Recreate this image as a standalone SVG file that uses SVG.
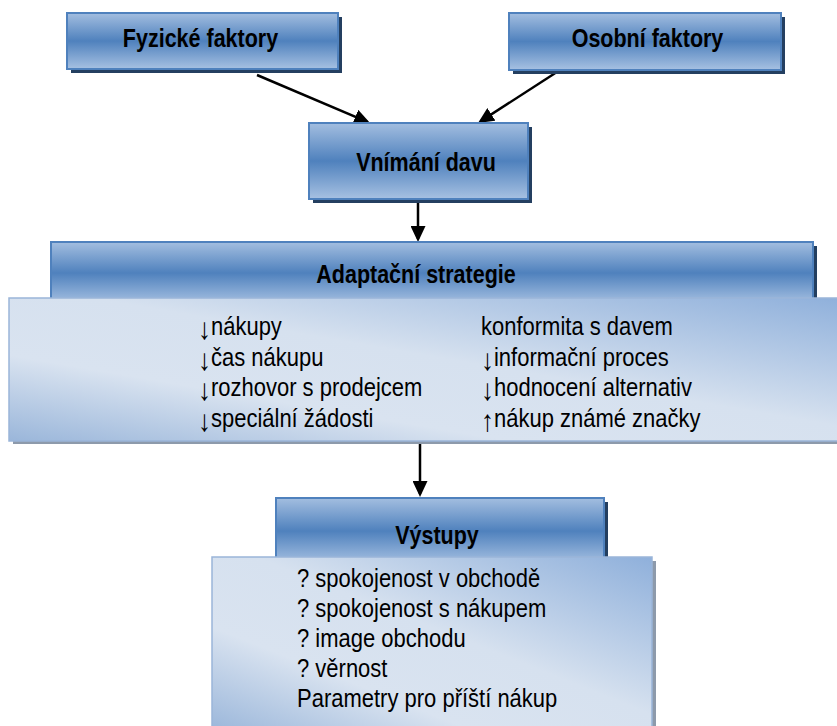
<svg xmlns="http://www.w3.org/2000/svg" width="837" height="726" viewBox="0 0 837 726">
<style>
.hdr{fill:url(#hg);stroke:#4f81bd;stroke-width:2}
.shd{fill:#243f60}
.cnt{fill:url(#cg);stroke:#9ab5d9;stroke-width:1.5}
.cshd{fill:#8d9aab}
.b{font-family:"Liberation Sans",Arial,sans-serif;font-weight:bold;font-size:26px;fill:#000}
.t{font-family:"Liberation Sans",Arial,sans-serif;font-size:25.5px;fill:#000}
.ar{font-size:30px}
.con{stroke:#000;stroke-width:2.5;fill:none;marker-end:url(#ah)}
</style>
<defs>
<linearGradient id="hg" x1="0" y1="0" x2="0" y2="1">
<stop offset="0" stop-color="#a3bee0"/>
<stop offset="0.5" stop-color="#4f81bd"/>
<stop offset="1" stop-color="#a7c1e2"/>
</linearGradient>
<linearGradient id="cg" x1="0" y1="1" x2="1" y2="0">
<stop offset="0" stop-color="#9ab6da"/>
<stop offset="0.3" stop-color="#d9e3f0"/>
<stop offset="0.55" stop-color="#d6e1ef"/>
<stop offset="1" stop-color="#8fb0db"/>
</linearGradient>
<marker id="ah" markerUnits="userSpaceOnUse" markerWidth="16" markerHeight="15" refX="13" refY="7.5" orient="auto">
<path d="M0,0 L16,7.5 L0,15 z" fill="#000"/>
</marker>
</defs>

<g id="connectors">
<line class="con" x1="257" y1="75" x2="367.3" y2="121.8"/>
<line class="con" x1="560" y1="70" x2="480.5" y2="121.4"/>
<line class="con" x1="418" y1="203" x2="418" y2="239"/>
<line class="con" x1="420" y1="444" x2="420" y2="494"/>
</g>

<g id="fyzicke">
<rect class="shd" x="71" y="17" width="271" height="56"/>
<rect class="hdr" x="67" y="13" width="271" height="56"/>
<text class="b" text-anchor="middle" transform="translate(200.5,47) scale(0.827,1)">Fyzické faktory</text>
</g>

<g id="osobni">
<rect class="shd" x="513" y="17" width="272" height="57"/>
<rect class="hdr" x="509" y="13" width="272" height="57"/>
<text class="b" text-anchor="middle" transform="translate(647.5,47) scale(0.827,1)">Osobní faktory</text>
</g>

<g id="vnimani">
<rect class="shd" x="313" y="127" width="219" height="76"/>
<rect class="hdr" x="309" y="123" width="219" height="76"/>
<text class="b" text-anchor="middle" transform="translate(426,171) scale(0.827,1)">Vnímání davu</text>
</g>

<g id="adaptacni">
<rect class="shd" x="55" y="246" width="762" height="56"/>
<rect class="hdr" x="51" y="242" width="762" height="62"/>
<text class="b" text-anchor="middle" transform="translate(416,283) scale(0.827,1)">Adaptační strategie</text>
<rect class="cshd" x="13" y="302" width="830" height="142"/>
<rect class="cnt" x="9" y="298" width="834" height="143"/>
<g class="t">
<text transform="translate(198,335) scale(0.863,1)"><tspan class="ar" dy="4">↓</tspan><tspan dy="-4">nákupy</tspan></text>
<text transform="translate(198,365.5) scale(0.863,1)"><tspan class="ar" dy="4">↓</tspan><tspan dy="-4">čas nákupu</tspan></text>
<text transform="translate(198,396) scale(0.863,1)"><tspan class="ar" dy="4">↓</tspan><tspan dy="-4">rozhovor s prodejcem</tspan></text>
<text transform="translate(198,426.5) scale(0.863,1)"><tspan class="ar" dy="4">↓</tspan><tspan dy="-4">speciální žádosti</tspan></text>
<text transform="translate(481,335) scale(0.863,1)">konformita s davem</text>
<text transform="translate(481,365.5) scale(0.863,1)"><tspan class="ar" dy="4">↓</tspan><tspan dy="-4">informační proces</tspan></text>
<text transform="translate(481,396) scale(0.863,1)"><tspan class="ar" dy="4">↓</tspan><tspan dy="-4">hodnocení alternativ</tspan></text>
<text transform="translate(481,426.5) scale(0.863,1)"><tspan class="ar" dy="4">↑</tspan><tspan dy="-4">nákup známé značky</tspan></text>
</g>
</g>

<g id="vystupy">
<rect class="shd" x="280" y="502" width="328" height="58"/>
<rect class="hdr" x="276" y="498" width="328" height="66"/>
<text class="b" text-anchor="middle" transform="translate(437,544) scale(0.827,1)">Výstupy</text>
<rect class="cshd" x="216" y="561" width="440" height="175"/>
<rect class="cnt" x="212" y="557" width="440" height="175"/>
<g class="t">
<text transform="translate(297,587) scale(0.863,1)">? spokojenost v obchodě</text>
<text transform="translate(297,617) scale(0.863,1)">? spokojenost s nákupem</text>
<text transform="translate(297,647) scale(0.863,1)">? image obchodu</text>
<text transform="translate(297,677) scale(0.863,1)">? věrnost</text>
<text transform="translate(297,707) scale(0.863,1)">Parametry pro příští nákup</text>
</g>
</g>
</svg>
